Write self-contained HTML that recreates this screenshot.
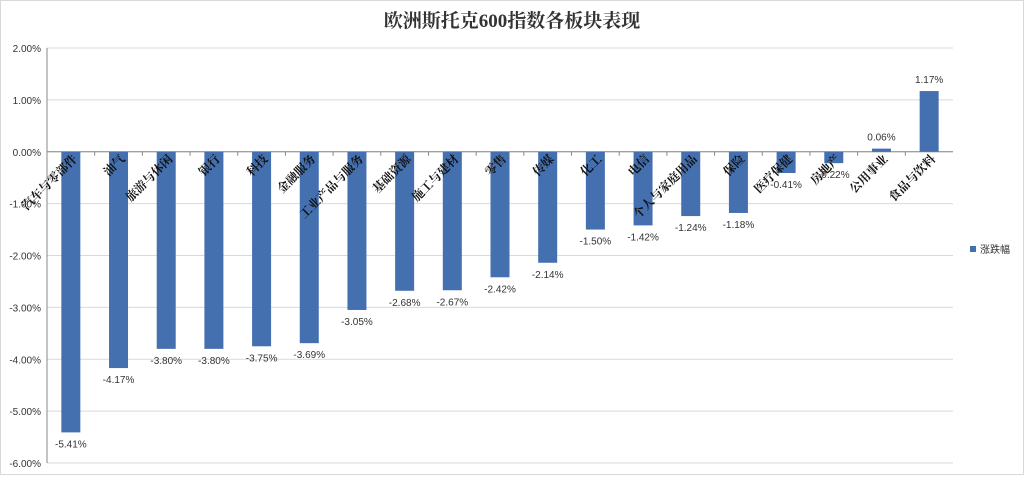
<!DOCTYPE html>
<html><head><meta charset="utf-8"><style>
body{margin:0;background:#fff;}
svg text{font-family:"Liberation Sans","Noto Sans CJK SC",sans-serif;}
</style></head><body>
<svg id="c" width="1024" height="475">
<rect x="0.5" y="0.5" width="1023" height="474" fill="#fff" stroke="#d9d9d9"/>
<text x="512" y="27" text-anchor="middle" font-size="19" font-weight="bold" fill="#333" style='font-family:"Liberation Serif","Noto Serif CJK SC",serif'>欧洲斯托克600指数各板块表现</text>
<g id="grid"></g><g id="bars"></g><g id="lbls"></g>
<rect x="970" y="246" width="6" height="6" fill="#4470b0"/>
<text x="980" y="253" font-size="10" fill="#333">涨跌幅</text>
</svg>
<script>
const categories=["汽车与零部件","油气","旅游与休闲","银行","科技","金融服务","工业产品与服务","基础资源","施工与建材","零售","传媒","化工","电信","个人与家庭用品","保险","医疗保健","房地产","公用事业","食品与饮料"];
const values=[-5.41,-4.17,-3.80,-3.80,-3.75,-3.69,-3.05,-2.68,-2.67,-2.42,-2.14,-1.50,-1.42,-1.24,-1.18,-0.41,-0.22,0.06,1.17];
const ticks=[2,1,0,-1,-2,-3,-4,-5,-6];
const NS="http://www.w3.org/2000/svg";
const x0=47,x1=953,yTop=48,yBot=463,vMax=2,vMin=-6;
const y=v=>yTop+(vMax-v)/(vMax-vMin)*(yBot-yTop);
const step=(x1-x0)/categories.length;
const xc=i=>x0+step*(i+0.5);
function mk(t,a,p){const e=document.createElementNS(NS,t);for(const k in a)e.setAttribute(k,a[k]);p.appendChild(e);return e;}
const G=document.getElementById('grid'),B=document.getElementById('bars'),L=document.getElementById('lbls');
ticks.forEach(t=>{
 const l=mk('line',{x1:x0,x2:x1,y1:y(t),y2:y(t),stroke:'#d9d9d9'},G);
 
 
 const tx=mk('text',{x:x0-6,y:y(t)+4,'text-anchor':'end','font-size':10,fill:'#333'},G);
 tx.textContent=t.toFixed(2)+'%';
 
 
});
const ax=mk('line',{x1:x0,x2:x0,y1:yTop,y2:yBot,stroke:'#888'},G);


const zl=mk('line',{x1:x0,x2:x1,y1:y(0),y2:y(0),stroke:'#888'},G);


for(let i=0;i<categories.length;i++){
 const tk=mk('line',{x1:x0+step*i,x2:x0+step*i,y1:y(0),y2:y(0)+4,stroke:'#888'},G);
 
 
}
categories.forEach((c,i)=>{
 const v=values[i],w=19;
 const top=Math.min(y(v),y(0)),h=Math.abs(y(v)-y(0));
 const r=mk('rect',{x:xc(i)-w/2,y:top,width:w,height:h,fill:'#4470b0'},B);
 
 
 const vl=mk('text',{x:xc(i),y:v<0?y(v)+15:y(v)-8,'text-anchor':'middle','font-size':10,fill:'#333'},L);
 vl.textContent=v.toFixed(2)+'%';
 
 
 const cx=xc(i)+7,cy=y(0)+8;
 const cl=mk('text',{x:cx,y:cy,'text-anchor':'end','font-size':12,'font-weight':'bold',fill:'#111',transform:`rotate(-45 ${cx} ${cy})`},L);
 cl.setAttribute('style','font-family:"Liberation Serif","Noto Serif CJK SC",serif');
 cl.textContent=c;
 
 
});
</script>
</body></html>
